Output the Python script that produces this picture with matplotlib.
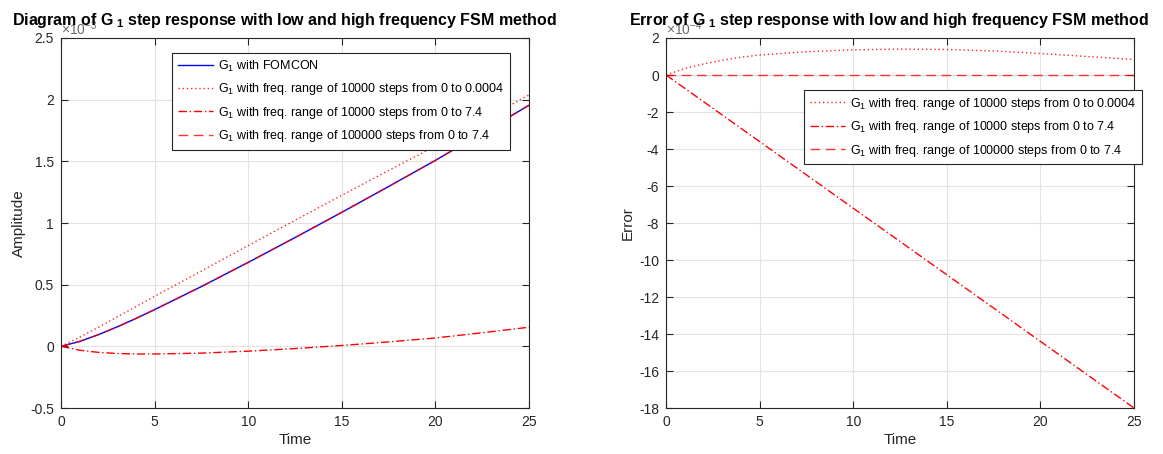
import numpy as np
import matplotlib
matplotlib.use('Agg')
import matplotlib.pyplot as plt

plt.rcParams['font.family'] = ['Liberation Sans', 'DejaVu Sans']
plt.rcParams['mathtext.default'] = 'regular'
plt.rcParams['axes.unicode_minus'] = False

# time samples (s)
t = [0, 1, 2, 3, 4, 5, 7.5, 10, 12.5, 15, 17.5, 20, 22.5, 25]

# FOMCON step response of G1, in units of 1e-3
fomcon = [0, 0.04, 0.095, 0.158, 0.226, 0.298, 0.485, 0.681, 0.882,
          1.087, 1.296, 1.508, 1.73, 1.955]

# errors of the FSM approximations against FOMCON, in units of 1e-4
err_low = [0, 0.35, 0.6, 0.8, 0.96, 1.08, 1.26, 1.36, 1.40, 1.38, 1.3,
           1.16, 1.0, 0.84]
err_mid = [0, -0.72, -1.44, -2.16, -2.88, -3.6, -5.4, -7.2, -9.0, -10.8,
           -12.6, -14.4, -16.2, -18.0]
err_fine = [0] * 14

labels = ['G$_1$ with freq. range of 10000 steps from 0 to 0.0004',
          'G$_1$ with freq. range of 10000 steps from 0 to 7.4',
          'G$_1$ with freq. range of 100000 steps from 0 to 7.4']

t = np.array(t)
fomcon = np.array(fomcon)
errs = [np.array(e) for e in (err_low, err_mid, err_fine)]
styles = [dict(ls=(0, (1, 2)), alpha=0.85), dict(ls=(0, (6, 2, 1, 2))),
          dict(ls=(0, (7, 4)), alpha=0.8)]

dark = '#262626'
fig = plt.figure(figsize=(11.63, 4.54), dpi=100)
ax1 = fig.add_axes([0.0525, 0.1013, 0.4024, 0.815])
ax2 = fig.add_axes([0.5727, 0.1013, 0.4024, 0.815])

ax1.plot(t, fomcon, color='blue', lw=1.0, label='G$_1$ with FOMCON')
for e, st, lab in zip(errs, styles, labels):
    ax1.plot(t, fomcon + e / 10, color='red', lw=1.0, label=lab, **st)
    ax2.plot(t, e, color='red', lw=1.0, label=lab, **st)

ax1.set_ylim(-0.5, 2.5)
ax1.set_yticks(np.arange(-0.5, 2.51, 0.5))
ax1.set_yticklabels(['-0.5', '0', '0.5', '1', '1.5', '2', '2.5'])
ax2.set_ylim(-18, 2)
ax2.set_yticks(np.arange(-18, 3, 2))

for ax, title, ylab, mult in [
        (ax1, 'Diagram of G$_{\\ 1}$ step response with low and high frequency FSM method',
         'Amplitude', '$\\times10^{-3}$'),
        (ax2, 'Error of G$_{\\ 1}$ step response with low and high frequency FSM method',
         'Error', '$\\times10^{-4}$')]:
    ax.set_xlim(0, 25)
    ax.set_xticks([0, 5, 10, 15, 20, 25])
    ax.grid(True, color='#e3e3e3', lw=0.8)
    ax.set_axisbelow(True)
    ax.tick_params(direction='in', top=True, right=True, colors=dark,
                   labelsize=10, length=5, pad=5)
    for s in ax.spines.values():
        s.set_color(dark)
        s.set_linewidth(0.8)
    ax.set_title(title, fontsize=11.5, fontweight='bold', pad=9, x=0.477)
    ax.set_xlabel('Time', fontsize=11, color=dark, labelpad=3)
    ax.set_ylabel(ylab, fontsize=11, color=dark, labelpad=3)
    ax.text(0.0, 1.0, mult, transform=ax.transAxes, fontsize=10,
            color='#6a6a6a', va='bottom', ha='left')

leg_kw = dict(loc='upper left', fontsize=9, fancybox=False, framealpha=1,
              edgecolor=dark, handlelength=2.8, handletextpad=0.4,
              borderpad=0.45, labelspacing=0.6, borderaxespad=0)
l1 = ax1.legend(bbox_to_anchor=(0.1479, 0.8833),
                bbox_transform=fig.transFigure, **leg_kw)
l2 = ax2.legend(bbox_to_anchor=(0.6913, 0.8018),
                bbox_transform=fig.transFigure, **leg_kw)
for l in (l1, l2):
    l.get_frame().set_linewidth(0.8)

fig.savefig('out.png', dpi=100)
